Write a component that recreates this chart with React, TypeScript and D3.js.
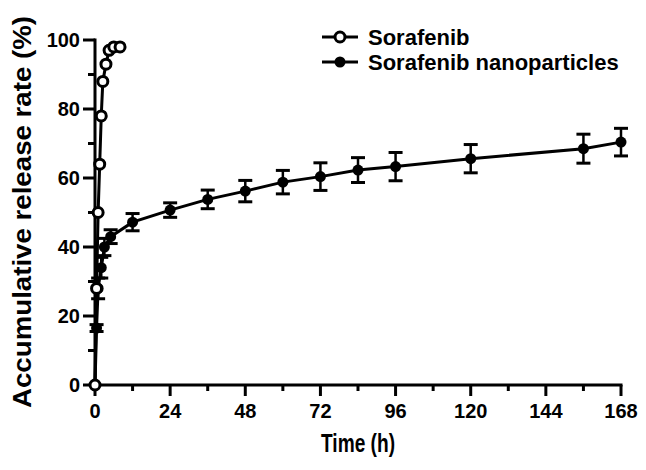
import React from "react";
import * as d3 from "d3";

// release profile, time in hours, release in %
const freeTimes = [0, 0.5, 1, 1.5, 2, 2.5, 3.5, 4.5, 6, 8];
const freeValues = [0, 28, 50, 64, 78, 88, 93, 97, 98, 98];

const nanoTimes = [0, 0.5, 1, 2, 3, 5, 12, 24, 36, 48, 60, 72, 84, 96, 120, 156, 168];
const nanoValues = [0, 16.5, 28, 34, 40, 43, 47.2, 50.7, 53.8, 56.2, 58.8, 60.4, 62.3, 63.3, 65.6, 68.5, 70.4];
const nanoErrors = [0, 1, 3, 3, 2.5, 2, 2.5, 2.1, 2.7, 3.1, 3.4, 4, 3.6, 4.1, 4.1, 4.2, 4];

const xTicks = [0, 24, 48, 72, 96, 120, 144, 168];
const xMinor = [12, 36, 60, 84, 108, 132, 156];
const yTicks = [0, 20, 40, 60, 80, 100];
const yMinor = [10, 30, 50, 70, 90];

const seriesNames = ["Sorafenib", "Sorafenib nanoparticles"];

export default function App() {
  const width = 646;
  const height = 470;

  const x = d3.scaleLinear().domain([0, 168]).range([95, 621]);
  const y = d3.scaleLinear().domain([0, 100]).range([385, 40]);

  const free = freeTimes.map((t, i) => ({ t, v: freeValues[i] }));
  const nano = nanoTimes.map((t, i) => ({ t, v: nanoValues[i], e: nanoErrors[i] }));

  const line = d3.line<{ t: number; v: number }>()
    .x(d => x(d.t))
    .y(d => y(d.v));

  const font = "Arial, 'Liberation Sans', sans-serif";

  return (
    <svg width={width} height={height} style={{ position: "absolute", left: 0, top: 0, background: "#fff" }}>
      {/* axes */}
      <g stroke="#000" strokeWidth={3}>
        <line x1={x(0)} x2={x(0)} y1={y(100) - 1.5} y2={y(0)} />
        <line x1={x(0) - 1.5} x2={x(168) + 1.5} y1={y(0)} y2={y(0)} />
        {yTicks.map(t => (
          <line key={"yt" + t} x1={x(0) - 12} x2={x(0)} y1={y(t)} y2={y(t)} />
        ))}
        {yMinor.map(t => (
          <line key={"ym" + t} x1={x(0) - 7} x2={x(0)} y1={y(t)} y2={y(t)} />
        ))}
        {xTicks.map(t => (
          <line key={"xt" + t} x1={x(t)} x2={x(t)} y1={y(0)} y2={y(0) + 11} />
        ))}
        {xMinor.map(t => (
          <line key={"xm" + t} x1={x(t)} x2={x(t)} y1={y(0)} y2={y(0) + 6} />
        ))}
      </g>

      <g fontFamily={font} fontWeight="bold" fontSize={20} fill="#000">
        {yTicks.map(t => (
          <text key={"yl" + t} x={80} y={y(t)} dy="0.36em" textAnchor="end">{t}</text>
        ))}
        {xTicks.map(t => (
          <text key={"xl" + t} x={x(t)} y={418} textAnchor="middle">{t}</text>
        ))}
      </g>

      <text x={358} y={452} textAnchor="middle" fontFamily={font} fontWeight="bold" fontSize={25}
        textLength={74} lengthAdjust="spacingAndGlyphs">Time (h)</text>
      <text transform={`translate(31,212) rotate(-90)`} textAnchor="middle" fontFamily={font}
        fontWeight="bold" fontSize={26} textLength={392} lengthAdjust="spacingAndGlyphs">Accumulative release rate (%)</text>

      {/* nanoparticles */}
      <path d={line(nano) ?? ""} fill="none" stroke="#000" strokeWidth={3} />
      <g stroke="#000" strokeWidth={2.5}>
        {nano.filter(d => d.e > 0).map((d, i) => (
          <g key={"eb" + i}>
            <line x1={x(d.t)} x2={x(d.t)} y1={y(d.v + d.e)} y2={y(d.v - d.e)} />
            <line x1={x(d.t) - 7} x2={x(d.t) + 7} y1={y(d.v + d.e)} y2={y(d.v + d.e)} strokeWidth={3} />
            <line x1={x(d.t) - 7} x2={x(d.t) + 7} y1={y(d.v - d.e)} y2={y(d.v - d.e)} strokeWidth={3} />
          </g>
        ))}
      </g>
      {nano.map((d, i) => (
        <circle key={"np" + i} cx={x(d.t)} cy={y(d.v)} r={5.5} fill="#000" />
      ))}

      {/* free drug */}
      <path d={line(free) ?? ""} fill="none" stroke="#000" strokeWidth={3} />
      {free.map((d, i) => (
        <circle key={"fp" + i} cx={x(d.t)} cy={y(d.v)} r={5} fill="#fff" stroke="#000" strokeWidth={3} />
      ))}

      {/* legend */}
      <g fontFamily={font} fontWeight="bold" fontSize={22}>
        {seriesNames.map((name, i) => {
          const ly = 37 + i * 25;
          return (
            <g key={name}>
              <line x1={322} x2={358} y1={ly} y2={ly} stroke="#000" strokeWidth={3} />
              {i === 0 ? (
                <circle cx={340} cy={ly} r={5} fill="#fff" stroke="#000" strokeWidth={3} />
              ) : (
                <circle cx={340} cy={ly} r={5.5} fill="#000" />
              )}
              <text x={368} y={ly} dy="0.36em">{name}</text>
            </g>
          );
        })}
      </g>
    </svg>
  );
}
